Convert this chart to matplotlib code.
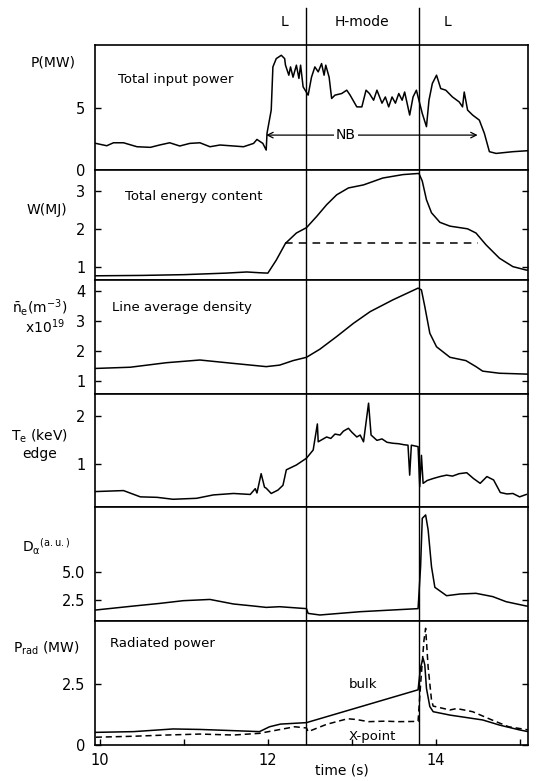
import matplotlib as mpl
mpl.use('Agg')  # batch mode
import matplotlib.pyplot as plt

mpl.rcParams['font.family'] = 'DejaVu Sans'
mpl.rcParams['mathtext.default'] = 'regular'

# time of L->H and H->L transitions (s)
t_LH = 12.46
t_HL = 13.80

# total input power P (MW)
p_t = [9.95, 10.08, 10.16, 10.28, 10.44, 10.6, 10.71, 10.83, 10.95, 11.07, 11.19, 11.31, 11.43, 11.59, 11.71,
       11.83, 11.87, 11.94, 11.98, 11.99, 12.04, 12.06, 12.1, 12.16, 12.2, 12.21, 12.25, 12.27, 12.3, 12.34,
       12.37, 12.39, 12.42, 12.48, 12.52, 12.56, 12.6, 12.64, 12.67, 12.69, 12.73, 12.76, 12.8, 12.88, 12.94,
       12.98, 13.06, 13.12, 13.17, 13.21, 13.26, 13.3, 13.36, 13.4, 13.44, 13.48, 13.52, 13.56, 13.6, 13.63,
       13.69, 13.73, 13.77, 13.8, 13.84, 13.89, 13.92, 13.96, 14.01, 14.06, 14.12, 14.2, 14.28, 14.32, 14.34,
       14.38, 14.44, 14.52, 14.58, 14.64, 14.72, 14.92, 15.1]
p_v = [2.15, 1.96, 2.2, 2.2, 1.88, 1.83, 2.02, 2.2, 1.94, 2.15, 2.2, 1.88, 2.02, 1.94, 1.88,
       2.15, 2.47, 2.15, 1.61, 2.97, 4.84, 8.33, 9.0, 9.27, 9.0, 8.47, 7.66, 8.33, 7.5, 8.47,
       7.4, 8.47, 6.72, 6.05, 7.5, 8.33, 7.93, 8.6, 7.66, 8.47, 7.5, 5.78, 6.05, 6.18, 6.45,
       6.05, 5.1, 5.1, 6.45, 6.18, 5.64, 6.45, 5.4, 5.9, 5.1, 5.9, 5.4, 6.18, 5.64, 6.3,
       4.44, 5.9, 6.45, 5.64, 4.57, 3.5, 5.64, 6.99, 7.66, 6.58, 6.45, 5.9, 5.5, 5.1, 6.3,
       4.84, 4.44, 4.03, 2.96, 1.48, 1.34, 1.48, 1.56]
nb_start, nb_end, nb_level = 11.98, 14.5, 2.82

# total energy content W (MJ)
w_t = [9.95, 10.5, 11.0, 11.5, 11.75, 11.9, 12.0, 12.1, 12.21, 12.34, 12.46, 12.58, 12.7, 12.82, 12.96,
       13.14, 13.37, 13.61, 13.8, 13.84, 13.89, 13.95, 14.05, 14.17, 14.38, 14.48, 14.6, 14.76, 14.92, 15.08, 15.1]
w_v = [0.77, 0.78, 0.8, 0.84, 0.87, 0.85, 0.84, 1.18, 1.62, 1.89, 2.03, 2.32, 2.63, 2.89, 3.07,
       3.15, 3.33, 3.42, 3.45, 3.25, 2.76, 2.42, 2.17, 2.07, 2.0, 1.89, 1.58, 1.23, 1.01, 0.92, 0.92]
w_dash_t = [12.21, 14.5]
w_dash_v = [1.62, 1.62]

# line average density (1e19 m^-3)
n_t = [9.95, 10.36, 10.79, 11.19, 11.58, 11.98, 12.14, 12.3, 12.46, 12.62, 12.82, 13.02, 13.22, 13.49, 13.79,
       13.83, 13.87, 13.93, 14.01, 14.17, 14.36, 14.48, 14.56, 14.76, 15.1]
n_v = [1.42, 1.46, 1.61, 1.70, 1.59, 1.48, 1.53, 1.68, 1.79, 2.06, 2.48, 2.92, 3.31, 3.7, 4.09,
       4.03, 3.48, 2.59, 2.14, 1.79, 1.68, 1.48, 1.33, 1.26, 1.23]

# edge Te (keV)
te_t = [9.95, 10.28, 10.48, 10.68, 10.87, 11.15, 11.35, 11.59, 11.79, 11.85, 11.87, 11.92, 11.96, 11.98, 12.04,
        12.12, 12.18, 12.22, 12.34, 12.46, 12.54, 12.59, 12.6, 12.66, 12.7, 12.75, 12.8, 12.86, 12.9, 12.96,
        13.0, 13.06, 13.1, 13.14, 13.2, 13.23, 13.3, 13.36, 13.42, 13.49, 13.56, 13.62, 13.67, 13.69, 13.71,
        13.79, 13.81, 13.83, 13.85, 13.9, 13.97, 14.05, 14.13, 14.2, 14.28, 14.37, 14.45, 14.53, 14.61, 14.69,
        14.77, 14.85, 14.92, 15.0, 15.08]
te_v = [0.43, 0.45, 0.32, 0.31, 0.27, 0.29, 0.36, 0.39, 0.37, 0.49, 0.40, 0.80, 0.52, 0.50, 0.39,
        0.46, 0.56, 0.88, 0.98, 1.12, 1.29, 1.83, 1.46, 1.52, 1.56, 1.53, 1.62, 1.6, 1.68, 1.74,
        1.66, 1.56, 1.6, 1.46, 2.26, 1.6, 1.49, 1.52, 1.45, 1.43, 1.42, 1.4, 1.39, 0.77, 1.39,
        1.36, 0.53, 1.18, 0.6, 0.66, 0.70, 0.74, 0.77, 0.75, 0.8, 0.82, 0.70, 0.6, 0.74, 0.67,
        0.41, 0.38, 0.39, 0.32, 0.37]

# D-alpha (a.u.)
d_t = [9.95, 10.4, 10.71, 10.99, 11.31, 11.59, 11.83, 11.98, 12.14, 12.46, 12.48, 12.62, 13.1, 13.79, 13.82,
       13.84, 13.88, 13.91, 13.95, 13.99, 14.13, 14.29, 14.48, 14.68, 14.84, 15.08, 15.1]
d_v = [1.62, 1.97, 2.2, 2.44, 2.55, 2.15, 1.97, 1.85, 1.91, 1.74, 1.32, 1.18, 1.47, 1.74, 5.44,
       9.7, 10.0, 8.68, 5.44, 3.62, 2.88, 3.03, 3.09, 2.8, 2.35, 1.97, 1.97]

# radiated power (MW): bulk and X-point
b_t = [9.95, 10.4, 10.87, 11.19, 11.59, 11.9, 12.02, 12.15, 12.46, 13.79, 13.82, 13.85, 13.87, 13.89, 13.93,
       13.97, 14.17, 14.56, 14.76, 15.0, 15.1]
b_v = [0.52, 0.55, 0.66, 0.64, 0.59, 0.55, 0.75, 0.86, 0.92, 2.27, 3.2, 3.57, 3.3, 2.33, 1.58,
       1.37, 1.23, 1.03, 0.82, 0.62, 0.55]
x_t = [9.95, 10.4, 10.79, 11.19, 11.59, 11.9, 12.32, 12.46, 12.48, 12.7, 12.95, 13.05, 13.2, 13.4, 13.55,
       13.79, 13.82, 13.86, 13.88, 13.91, 13.95, 13.97, 14.17, 14.25, 14.44, 14.67, 14.87, 15.07, 15.1]
x_v = [0.32, 0.36, 0.41, 0.45, 0.41, 0.48, 0.75, 0.7, 0.55, 0.85, 1.08, 1.05, 0.96, 0.98, 0.96,
       0.97, 2.5, 4.3, 4.8, 3.2, 1.85, 1.6, 1.44, 1.5, 1.37, 1.03, 0.75, 0.64, 0.62]

W, H = 539, 781


def px(x, y):
    # pixel position -> figure fraction
    return x / W, 1 - y / H


fig = plt.figure(figsize=(W / 100, H / 100), dpi=100)
axs = fig.subplots(6, 1, sharex=True,
                   gridspec_kw={"height_ratios": [125, 110, 114, 113, 114, 124], "hspace": 0})
fig.subplots_adjust(left=95 / W, right=528 / W, top=1 - 45 / H, bottom=1 - 745 / H)

lw = 1.1
dash = (0, (4, 2.5))

ylims = [(0, 10.1), (0.66, 3.54), (0.57, 4.36), (0.11, 2.45), (0.65, 10.7), (0, 5.1)]
yticks = [[0, 5], [1, 2, 3], [1, 2, 3, 4], [1, 2], [2.5, 5.0], [0, 2.5]]
ylabs = [['0', '5'], ['1', '2', '3'], ['1', '2', '3', '4'], ['1', '2'], ['2.5', '5.0'], ['0', '2.5']]

for i, ax in enumerate(axs):
    ax.set_ylim(*ylims[i])
    ax.set_yticks(yticks[i], labels=ylabs[i])
    ax.tick_params(axis='y', direction='in', right=True, length=4, width=1, labelsize=10.5, pad=7)
    ax.tick_params(axis='x', direction='in', top=False, bottom=(i == 5), length=4, width=1,
                   labelsize=10.5, pad=6)
    for sp in ax.spines.values():
        sp.set_linewidth(1.2)
    if i > 0:
        ax.axvline(t_LH, color='black', lw=1.0)
        ax.axvline(t_HL, color='black', lw=1.0)

ax_p, ax_w, ax_n, ax_te, ax_d, ax_r = axs
ax_p.set_xlim(9.94, 15.1)

# transitions lines run above the top panel
for tt in (t_LH, t_HL):
    ax_p.plot([tt, tt], [0, 1.296], color='black', lw=1.0, clip_on=False,
              transform=ax_p.get_xaxis_transform())
ax_p.text(12.2, 1.184, 'L', ha='center', va='center', fontsize=10, transform=ax_p.get_xaxis_transform())
ax_p.text(13.12, 1.184, 'H-mode', ha='center', va='center', fontsize=10, transform=ax_p.get_xaxis_transform())
ax_p.text(14.14, 1.184, 'L', ha='center', va='center', fontsize=10, transform=ax_p.get_xaxis_transform())

# power
ax_p.plot(p_t, p_v, color='black', lw=lw)
ax_p.annotate('', xy=(nb_start, nb_level), xytext=(nb_end, nb_level),
              arrowprops=dict(arrowstyle='<->', color='black', lw=0.9, shrinkA=0, shrinkB=0))
ax_p.text(12.93, nb_level, 'NB', ha='center', va='center', fontsize=10,
          bbox=dict(facecolor='white', edgecolor='none', pad=1.5))
ax_p.text(10.21, 7.3, 'Total input power', ha='left', va='center', fontsize=9.5)

# energy
ax_w.plot(w_t, w_v, color='black', lw=lw)
ax_w.plot(w_dash_t, w_dash_v, color='black', lw=lw, linestyle=(0, (5, 4)))
ax_w.text(10.3, 2.84, 'Total energy content', ha='left', va='center', fontsize=9.5)

# density
ax_n.plot(n_t, n_v, color='black', lw=lw)
ax_n.text(10.14, 3.43, 'Line average density', ha='left', va='center', fontsize=9.5)

# edge Te
ax_te.plot(te_t, te_v, color='black', lw=lw)

# D-alpha
ax_d.plot(d_t, d_v, color='black', lw=lw)

# radiated power
ax_r.plot(b_t, b_v, color='black', lw=lw)
ax_r.plot(x_t, x_v, color='black', lw=lw, linestyle=dash)
ax_r.text(10.12, 4.16, 'Radiated power', ha='left', va='center', fontsize=9.5)
ax_r.text(13.13, 2.47, 'bulk', ha='center', va='center', fontsize=9.5)
ax_r.text(13.25, 0.33, 'X-point', ha='center', va='center', fontsize=9.5)

ax_r.set_xticks([10, 11, 12, 13, 14, 15], labels=['10', '', '12', '', '14', ''])

# y axis labels drawn as figure text
fs = 10
fig.text(*px(53, 62), 'P(MW)', ha='center', va='center', fontsize=fs)
fig.text(*px(47, 210), 'W(MJ)', ha='center', va='center', fontsize=fs)
fig.text(*px(40, 307), r'$\bar{n}_e$(m$^{-3}$)', ha='center', va='center', fontsize=fs)
fig.text(*px(45, 327), r'x10$^{19}$', ha='center', va='center', fontsize=fs)
fig.text(*px(40, 436), r'T$_e$ (keV)', ha='center', va='center', fontsize=fs)
fig.text(*px(40, 454), 'edge', ha='center', va='center', fontsize=fs)
fig.text(*px(46, 547), r'D$_\alpha$$^{(a.u.)}$', ha='center', va='center', fontsize=fs)
fig.text(*px(46, 648), r'P$_{rad}$ (MW)', ha='center', va='center', fontsize=fs)
fig.text(*px(342, 770), 'time (s)', ha='center', va='center', fontsize=fs)

plt.savefig('out.png', dpi=100)
plt.close(fig)
